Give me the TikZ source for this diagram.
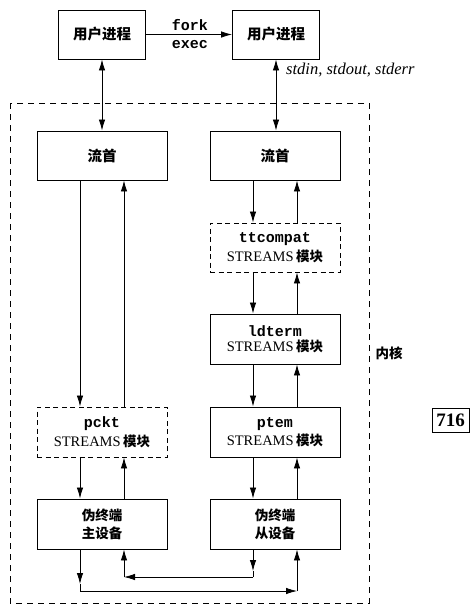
\documentclass[tikz,border=0pt]{standalone}
\usepackage{fontspec}
\setmainfont{Liberation Serif}
\setmonofont{Liberation Mono}
\newfontfamily\cjk{Noto Sans CJK SC}
\usetikzlibrary{arrows.meta,calc}
\newcommand{\zh}[1]{{\cjk\bfseries #1}}
\newcommand{\mytt}[1]{{\ttfamily\bfseries\fontsize{15}{17}\selectfont #1}}
\newcommand{\smod}{{\fontsize{14.5}{16}\selectfont STREAMS} {\fontsize{13.5}{16}\selectfont\zh{模块}}}
\begin{document}
\begin{tikzpicture}[x=1pt,y=-1pt,
  box/.style={draw,line width=0.9pt,minimum width=130pt,minimum height=49pt,inner sep=0pt,align=center},
  dbox/.style={box,dash pattern=on 5pt off 3.5pt},
  ubox/.style={box,minimum width=87pt},
  ln/.style={line width=0.8pt},
  arr/.style={ln,-{Latex[length=11pt,width=6.5pt]}},
  barr/.style={ln,{Latex[length=11pt,width=6.5pt]}-{Latex[length=11pt,width=6.5pt]}},
  monotxt/.style={font=\fontsize{15}{17}\selectfont\ttfamily\bfseries,inner sep=0pt},
  zhbig/.style={font=\fontsize{14.5}{17}\selectfont\cjk\bfseries},
  zhsm/.style={font=\fontsize{13.5}{17}\selectfont\cjk\bfseries}
]
\useasboundingbox (0,0) rectangle (469,605);
% kernel frame
\draw[line width=0.8pt,dash pattern=on 6pt off 5pt] (10,103) rectangle (369,603);
% user processes
\node[ubox,zhbig] (u1) at (102,34.5) {用户进程};
\node[ubox,zhbig] (u2) at (276,34.5) {用户进程};
% stream heads
\node[box,zhbig] (h1) at (102,155.5) {流首};
\node[box,zhbig] (h2) at (275,155.5) {流首};
% modules
\node[dbox] (tc) at (275,247.5) {\mytt{ttcompat}\\[3pt]\smod};
\node[box,minimum height=50pt] (ld) at (275,339) {\mytt{ldterm}\\[3pt]\smod};
\node[box,minimum height=50pt] (pt) at (275,432) {\mytt{ptem}\\[3pt]\smod};
\node[dbox,minimum height=50pt] (pk) at (102,432) {\mytt{pckt}\\[3pt]\smod};
% pseudo terminals
\node[box,zhsm,minimum height=50pt] (ma) at (102,524) {伪终端\\[1pt]主设备};
\node[box,zhsm,minimum height=50pt] (sl) at (275,524) {伪终端\\[1pt]从设备};
% fork/exec
\draw[arr] (u1.east) -- (u2.west);
\node[monotxt] (fk) at (190,25) {fork};
\node[monotxt] (ex) at (190,45) {exec};
% user <-> head
\draw[barr] (u1.south) -- (h1.north);
\draw[barr] (u2.south) -- ([xshift=1pt]h2.north);
\node[anchor=west,inner sep=0pt,font=\fontsize{16.5}{18}\selectfont\itshape] (sd) at (286,70) {stdin, stdout, stderr};
% left column
\draw[arr] ([xshift=-22pt]h1.south) -- ([xshift=-22pt]pk.north);
\draw[arr] ([xshift=22pt]pk.north) -- ([xshift=22pt]h1.south);
\draw[arr] ([xshift=-22pt]pk.south) -- ([xshift=-22pt]ma.north);
\draw[arr] ([xshift=22pt]ma.north) -- ([xshift=22pt]pk.south);
% right column
\draw[arr] ([xshift=-22pt]h2.south) -- ([xshift=-22pt]tc.north);
\draw[arr] ([xshift=22pt]tc.north) -- ([xshift=22pt]h2.south);
\draw[arr] ([xshift=-22pt]tc.south) -- ([xshift=-22pt]ld.north);
\draw[arr] ([xshift=22pt]ld.north) -- ([xshift=22pt]tc.south);
\draw[arr] ([xshift=-22pt]ld.south) -- ([xshift=-22pt]pt.north);
\draw[arr] ([xshift=22pt]pt.north) -- ([xshift=22pt]ld.south);
\draw[arr] ([xshift=-22pt]pt.south) -- ([xshift=-22pt]sl.north);
\draw[arr] ([xshift=22pt]sl.north) -- ([xshift=22pt]pt.south);
% bottom crossings
\coordinate (a0) at (80,584);
\coordinate (a1) at (80,591);
\coordinate (a2) at (297,591);
\coordinate (b0) at (253,571);
\coordinate (b1) at (253,577);
\coordinate (b2) at (124,577);
\draw[arr] ([xshift=-22pt]ma.south) -- (a0);
\draw[ln] (a0) -- (a1);
\draw[arr] (a1) -- (a2);
\draw[arr] (a2) -- ([xshift=22pt]sl.south);
\draw[arr] ([xshift=-22pt]sl.south) -- (b0);
\draw[ln] (b0) -- (b1);
\draw[arr] (b1) -- (b2);
\draw[arr] (b2) -- ([xshift=22pt]ma.south);
% labels
\node[zhsm] (kn) at (389,353) {内核};
\node[draw,line width=0.9pt,minimum width=37pt,minimum height=24pt,inner sep=0pt,font=\fontsize{19}{20}\selectfont\bfseries] (pg) at (450.5,420) {716};
\end{tikzpicture}
\end{document}
